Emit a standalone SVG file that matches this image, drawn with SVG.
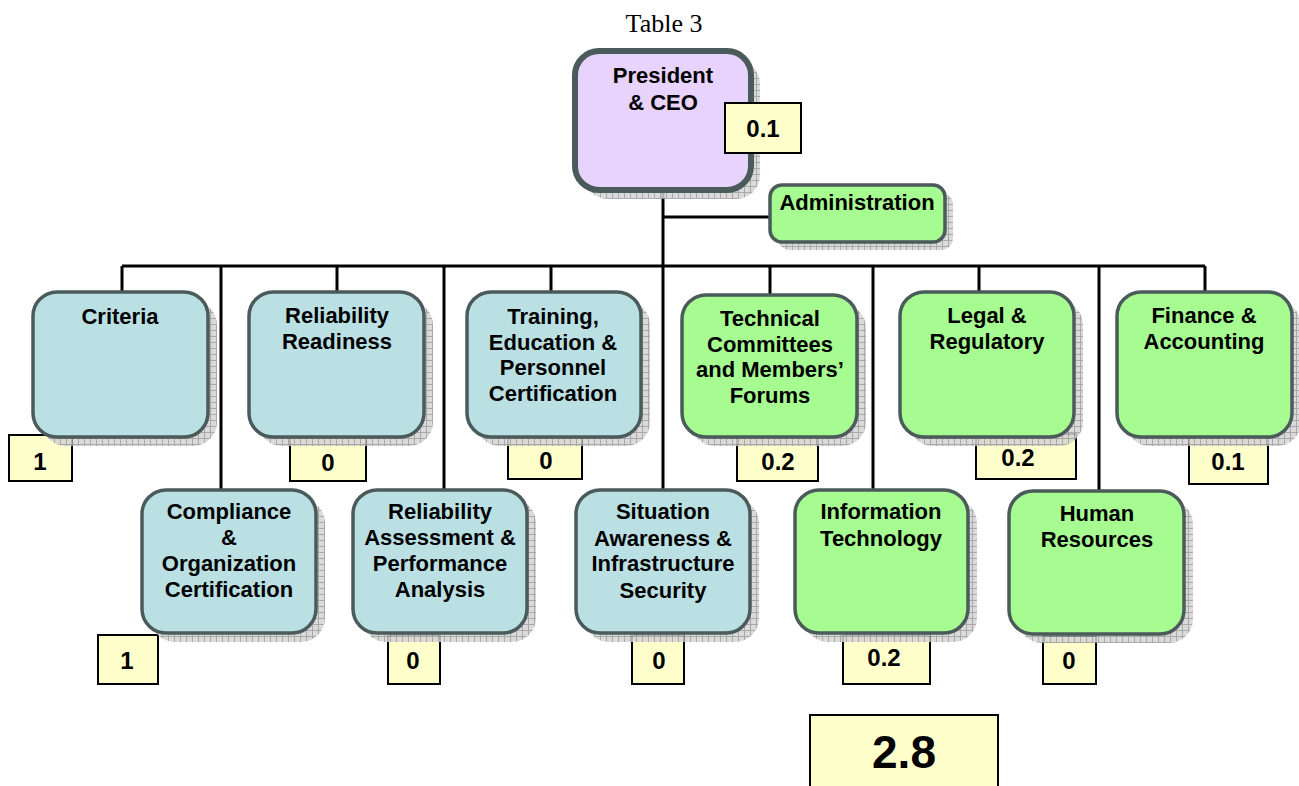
<svg xmlns="http://www.w3.org/2000/svg" width="1299" height="786" viewBox="0 0 1299 786">
<defs>
<pattern id="grid" width="6" height="6" patternUnits="userSpaceOnUse">
<rect width="6" height="6" fill="#d4d4d4"/>
<path d="M0 0.5H6M0.5 0V6" stroke="#9a9a9a" stroke-width="1"/>
</pattern>
<style>
.t{font-family:"Liberation Sans",Arial,sans-serif;font-weight:bold;font-size:22px;fill:#000;text-anchor:middle}
.v{font-family:"Liberation Sans",Arial,sans-serif;font-weight:bold;font-size:24px;fill:#000;text-anchor:middle}
.big{font-size:46px}
.sh{fill:url(#grid);opacity:0.85}
.node{stroke:#4b5a5a;stroke-width:3.5}
.blue{fill:#bae0e3}
.green{fill:#a6fb91}
.val{fill:#ffffcc;stroke:#000;stroke-width:2}
.c{stroke:#000;stroke-width:3;fill:none}
</style>
</defs>
<rect width="1299" height="786" fill="#fff"/>
<text x="664" y="32" font-family="Liberation Serif,Times New Roman,serif" font-size="26" text-anchor="middle">Table 3</text>

<g id="connectors">
<path class="c" d="M663 190V490M663 217H770M122 266H1205"/>
<path class="c" d="M122 266V292M337 266V292M551 266V292M770 266V295M979 266V292M1205 266V292"/>
<path class="c" d="M221 266V490M444 266V490M873 266V490M1099 266V490"/>
</g>

<g id="values">
<rect class="val" x="9" y="435" width="63" height="46"/>
<rect class="val" x="290" y="437" width="76" height="44"/>
<rect class="val" x="508" y="437" width="74" height="42"/>
<rect class="val" x="737" y="437" width="81" height="44"/>
<rect class="val" x="976" y="434" width="100" height="45"/>
<rect class="val" x="1189" y="437" width="79" height="47"/>
<rect class="val" x="98" y="635" width="60" height="49"/>
<rect class="val" x="388" y="635" width="52" height="49"/>
<rect class="val" x="632" y="635" width="52" height="49"/>
<rect class="val" x="843" y="635" width="87" height="49"/>
<rect class="val" x="1043" y="636" width="53" height="48"/>
<rect class="val" x="810" y="715" width="188" height="80"/>
</g>

<g id="president">
<rect class="sh" x="584" y="60" width="176" height="139" rx="24"/>
<rect x="575" y="51" width="176" height="139" rx="24" fill="#e7d3fc" stroke="#4b5a5a" stroke-width="6"/>
<text class="t" x="663" y="83">President</text>
<text class="t" x="663" y="110">&amp; CEO</text>
</g>
<g id="president-value"><rect class="val" x="725" y="103" width="76" height="50"/><text class="v" x="763" y="137">0.1</text></g>

<g id="administration">
<rect class="sh" x="778" y="193" width="175" height="57" rx="12"/>
<rect class="node green" x="770" y="185" width="175" height="57" rx="12"/>
<text class="t" x="857" y="210">Administration</text>
</g>

<g id="criteria">
<rect class="sh" x="42" y="301" width="175" height="145" rx="24"/>
<rect class="node blue" x="33" y="292" width="175" height="145" rx="24"/>
<text class="t" x="120" y="324">Criteria</text>
</g>
<g id="reliability-readiness">
<rect class="sh" x="258" y="301" width="175" height="145" rx="24"/>
<rect class="node blue" x="249" y="292" width="175" height="145" rx="24"/>
<text class="t" x="337" y="323">Reliability</text>
<text class="t" x="337" y="349">Readiness</text>
</g>
<g id="training">
<rect class="sh" x="476" y="301" width="174" height="145" rx="24"/>
<rect class="node blue" x="467" y="292" width="174" height="145" rx="24"/>
<text class="t" x="553" y="324">Training,</text>
<text class="t" x="553" y="350">Education &amp;</text>
<text class="t" x="553" y="375">Personnel</text>
<text class="t" x="553" y="401">Certification</text>
</g>
<g id="technical">
<rect class="sh" x="691" y="304" width="175" height="142" rx="24"/>
<rect class="node green" x="682" y="295" width="175" height="142" rx="24"/>
<text class="t" x="770" y="326">Technical</text>
<text class="t" x="770" y="352">Committees</text>
<text class="t" x="770" y="377">and Members’</text>
<text class="t" x="770" y="403">Forums</text>
</g>
<g id="legal">
<rect class="sh" x="909" y="301" width="174" height="145" rx="24"/>
<rect class="node green" x="900" y="292" width="174" height="145" rx="24"/>
<text class="t" x="987" y="323">Legal &amp;</text>
<text class="t" x="987" y="349">Regulatory</text>
</g>
<g id="finance">
<rect class="sh" x="1126" y="301" width="175" height="145" rx="24"/>
<rect class="node green" x="1117" y="292" width="175" height="145" rx="24"/>
<text class="t" x="1204" y="323">Finance &amp;</text>
<text class="t" x="1204" y="349">Accounting</text>
</g>

<g id="compliance">
<rect class="sh" x="151" y="499" width="174" height="143" rx="24"/>
<rect class="node blue" x="142" y="490" width="174" height="143" rx="24"/>
<text class="t" x="229" y="519">Compliance</text>
<text class="t" x="229" y="545">&amp;</text>
<text class="t" x="229" y="571">Organization</text>
<text class="t" x="229" y="597">Certification</text>
</g>
<g id="reliability-assessment">
<rect class="sh" x="362" y="499" width="174" height="143" rx="24"/>
<rect class="node blue" x="353" y="490" width="174" height="143" rx="24"/>
<text class="t" x="440" y="519">Reliability</text>
<text class="t" x="440" y="545">Assessment &amp;</text>
<text class="t" x="440" y="571">Performance</text>
<text class="t" x="440" y="597">Analysis</text>
</g>
<g id="situation">
<rect class="sh" x="585" y="499" width="174" height="143" rx="24"/>
<rect class="node blue" x="576" y="490" width="174" height="143" rx="24"/>
<text class="t" x="663" y="519">Situation</text>
<text class="t" x="663" y="546">Awareness &amp;</text>
<text class="t" x="663" y="571">Infrastructure</text>
<text class="t" x="663" y="598">Security</text>
</g>
<g id="it">
<rect class="sh" x="804" y="499" width="173" height="143" rx="24"/>
<rect class="node green" x="795" y="490" width="173" height="143" rx="24"/>
<text class="t" x="881" y="519">Information</text>
<text class="t" x="881" y="546">Technology</text>
</g>
<g id="hr">
<rect class="sh" x="1018" y="500" width="175" height="143" rx="24"/>
<rect class="node green" x="1009" y="491" width="175" height="143" rx="24"/>
<text class="t" x="1097" y="521">Human</text>
<text class="t" x="1097" y="547">Resources</text>
</g>

<g id="value-labels">
<text class="v" x="40" y="470">1</text>
<text class="v" x="328" y="471">0</text>
<text class="v" x="546" y="469">0</text>
<text class="v" x="778" y="470">0.2</text>
<text class="v" x="1018" y="466">0.2</text>
<text class="v" x="1228" y="470">0.1</text>
<text class="v" x="127" y="669">1</text>
<text class="v" x="413" y="669">0</text>
<text class="v" x="659" y="669">0</text>
<text class="v" x="884" y="666">0.2</text>
<text class="v" x="1069" y="669">0</text>
<text class="v big" x="904" y="768">2.8</text>
</g>
</svg>
